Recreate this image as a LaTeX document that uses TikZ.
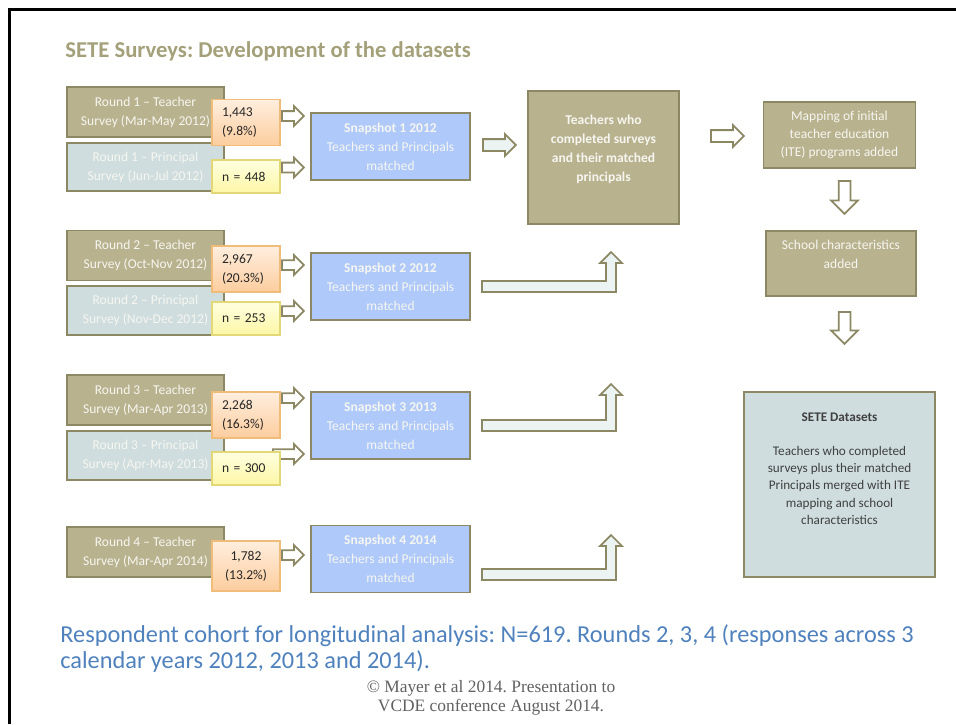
\documentclass[tikz,border=0pt]{standalone}
\usepackage{fontspec}
\setmainfont{Carlito}
\newfontfamily\serifcopy{Liberation Serif}
\usetikzlibrary{shapes.arrows}
\frenchspacing

\definecolor{olivefill}{RGB}{185,178,143}
\definecolor{olivedraw}{RGB}{140,136,100}
\definecolor{princfill}{RGB}{207,221,222}
\definecolor{snapfill}{RGB}{175,201,250}
\definecolor{titlecol}{RGB}{163,160,122}
\definecolor{cohortblue}{RGB}{79,129,189}
\definecolor{boxtext}{RGB}{246,246,240}
\definecolor{darktext}{RGB}{64,64,64}
\definecolor{orangetop}{RGB}{255,238,222}
\definecolor{orangebot}{RGB}{252,205,158}
\definecolor{orangedraw}{RGB}{240,188,122}
\definecolor{yellowtop}{RGB}{255,255,224}
\definecolor{yellowbot}{RGB}{252,246,165}
\definecolor{yellowdraw}{RGB}{226,216,120}
\definecolor{arrowfill}{RGB}{236,243,243}

\begin{document}
\begin{tikzpicture}[x=0.02cm, y=-0.02cm,
  box/.style={draw=olivedraw, line width=1.1pt, align=center, inner sep=2pt,
              text=boxtext, font=\fontsize{7.7}{10.8}\selectfont},
  teacher/.style  ={box, fill=olivefill, minimum width=3.14cm, minimum height=1cm},
  principal/.style={box, fill=princfill, minimum width=3.14cm, minimum height=0.97cm},
  snap/.style     ={box, fill=snapfill, minimum width=3.18cm, minimum height=1.34cm},
  stage/.style    ={box, fill=olivefill, minimum width=3.04cm, minimum height=1.32cm},
  count/.style={draw=orangedraw, line width=0.8pt, top color=orangetop, bottom color=orangebot,
                minimum width=1.36cm, minimum height=0.92cm, text width=0.96cm, align=left,
                inner sep=0pt, text=black!85, font=\fontsize{7.7}{10.8}\selectfont},
  pcount/.style={count, draw=yellowdraw, top color=yellowtop, bottom color=yellowbot,
                 minimum height=0.66cm},
  harrow/.style={single arrow, draw=olivedraw, fill=white, line width=1pt, inner sep=0pt,
                 inner ysep=0.08cm, single arrow head extend=0.1cm, minimum height=0.44cm,
                 anchor=tail},
  wide/.style={harrow, fill=arrowfill, inner ysep=0.1cm, minimum height=0.66cm},
  down/.style={wide, fill=white, inner sep=0.1cm, single arrow head extend=0.15cm,
               shape border rotate=270},
  bent/.style={draw=olivedraw, fill=arrowfill, line width=1pt, line join=miter},
]
\useasboundingbox (0,0) rectangle (956,724);
\draw[line width=0.05cm] (9.5,724) -- (9.5,9.5) -- (956,9.5);

\node[anchor=base west, inner sep=0pt, text=titlecol, font=\fontsize{12.9}{15}\selectfont\bfseries]
  (title) at (65,57) {SETE Surveys: Development of the datasets};

% round 1
\node[teacher]   (t1) at (145.5,112)   {Round 1 -- Teacher\\Survey (Mar-May 2012)};
\node[principal] (p1) at (145.5,167)   {Round 1 -- Principal\\Survey (Jun-Jul 2012)};
\node[harrow] (a1t) at (281,116)   {};
\node[harrow] (a1p) at (281,167.5) {};
\node[count]  (o1) at (246,122.5) {1,443\\(9.8\%)};
\node[pcount] (y1) at (246,176.5) {n = 448};
\node[snap]   (s1) at (390.5,146.5) {\textbf{Snapshot 1 2012}\\Teachers and Principals\\matched};

% round 2
\node[teacher]   (t2) at (145.5,255.5) {Round 2 -- Teacher\\Survey (Oct-Nov 2012)};
\node[principal] (p2) at (145.5,310.5) {Round 2 -- Principal\\Survey (Nov-Dec 2012)};
\node[harrow] (a2t) at (281,265) {};
\node[harrow] (a2p) at (281,311) {};
\node[count]  (o2) at (246,269)   {2,967\\(20.3\%)};
\node[pcount] (y2) at (246,318.5) {n = 253};
\node[snap]   (s2) at (390.5,286.5) {\textbf{Snapshot 2 2012}\\Teachers and Principals\\matched};

% round 3
\node[teacher]   (t3) at (145.5,400)   {Round 3 -- Teacher\\Survey (Mar-Apr 2013)};
\node[principal] (p3) at (145.5,455.5) {Round 3 -- Principal\\Survey (Apr-May 2013)};
\node[harrow] (a3t) at (281,398) {};
\node[harrow, minimum height=0.62cm] (a3p) at (272,454) {};
\node[count]  (o3) at (246,415)   {2,268\\(16.3\%)};
\node[pcount] (y3) at (246,468.5) {n = 300};
\node[snap]   (s3) at (390.5,425.5) {\textbf{Snapshot 3 2013}\\Teachers and Principals\\matched};

% round 4
\node[teacher] (t4) at (145.5,552) {Round 4 -- Teacher\\Survey (Mar-Apr 2014)};
\node[harrow] (a4t) at (281,555) {};
\node[count, align=center, minimum height=1cm] (o4) at (246,566) {1,782\\(13.2\%)};
\node[snap]   (s4) at (390.5,559) {\textbf{Snapshot 4 2014}\\Teachers and Principals\\matched};

% merge and enrich
\node[stage, minimum width=3.02cm, minimum height=2.66cm,
      font=\fontsize{7.7}{10.8}\selectfont\bfseries]
  (merged) at (603.5,157.5) {Teachers who\\completed surveys\\and their matched\\principals\\\mbox{}};
\node[wide] (am) at (482,145) {};
\node[wide, fill=white] (amap) at (710,136) {};
\node[stage, font=\fontsize{7.7}{10.5}\selectfont]
  (mapping) at (839.5,135) {Mapping of initial\\teacher education\\(ITE) programs added};
\node[down] (ad1) at (844.5,180) {};
\node[stage, minimum width=3cm, minimum height=1.3cm]
  (school) at (841,263.5) {School characteristics\\added\\\mbox{}};
\node[down, minimum height=0.64cm] (ad2) at (844.5,311) {};
\node[box, fill=princfill, text=darktext, minimum width=3.82cm, minimum height=3.7cm,
      font=\fontsize{7.5}{9.9}\selectfont]
  (sete) at (839.5,484.5) {\textbf{SETE Datasets}\\[9pt]Teachers who completed\\surveys plus their matched\\Principals merged with ITE\\mapping and school\\characteristics\\[7.7pt]\mbox{}};

% bent arrows up to the merged set
\draw[bent] (482,292) -- (616,292) -- (616,263) -- (622,263) -- (611,252) -- (600,263)
  -- (606,263) -- (606,281) -- (482,281) -- cycle;
\draw[bent] (482,431) -- (616,431) -- (616,395) -- (622,395) -- (611,384) -- (600,395)
  -- (606,395) -- (606,420) -- (482,420) -- cycle;
\draw[bent] (482,580) -- (616,580) -- (616,546) -- (622,546) -- (611,535) -- (600,546)
  -- (606,546) -- (606,569) -- (482,569) -- cycle;

\node[anchor=west, align=left, inner sep=0pt, text=cohortblue,
      font=\fontsize{13.85}{15.3}\selectfont]
  (cohort) at (60,648.5) {Respondent cohort for longitudinal analysis: N=619. Rounds 2, 3, 4 (responses across 3\\calendar years 2012, 2013 and 2014).};
\node[align=center, inner sep=0pt, text=black!62, font=\serifcopy\fontsize{9.9}{10.8}\selectfont]
  (credit) at (491,697.5) {\textcopyright{} Mayer et al 2014. Presentation to\\VCDE conference August 2014.};
\end{tikzpicture}
\end{document}
